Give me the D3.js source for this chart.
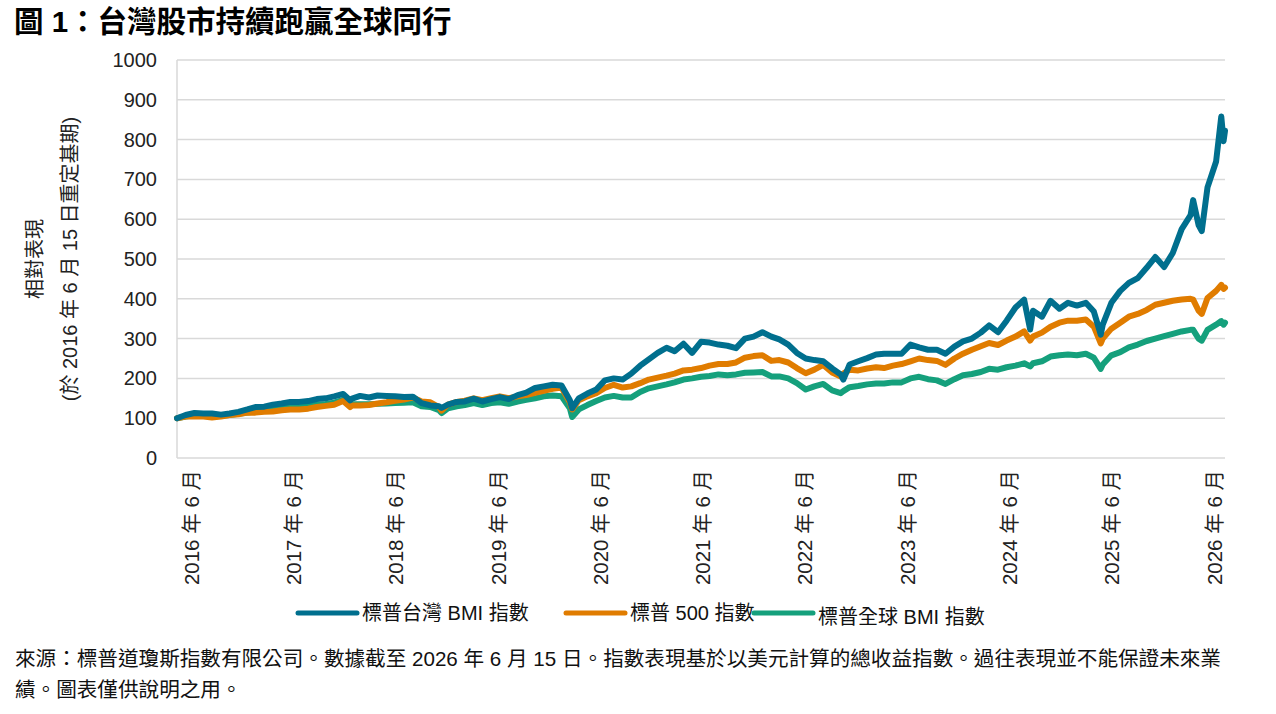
<!DOCTYPE html>
<html>
<head>
<meta charset="utf-8">
<script src="https://cdn.jsdelivr.net/npm/d3@7"></script>
<style>
  body { margin: 0; background: #fff; }
  svg text { font-family: "Liberation Sans", Arial, "Noto Sans CJK TC", sans-serif; }
</style>
</head>
<body>
<div class="svg-container"></div>
<script>
// dates of the readings (mid-month, plus a few turning points)
var dates = [
  "2016-06-15","2016-07-15","2016-08-15","2016-09-15","2016-10-15","2016-11-15","2016-12-15",
  "2017-01-15","2017-02-15","2017-03-15","2017-04-15","2017-05-15","2017-06-15","2017-07-15","2017-08-15","2017-09-15","2017-10-15","2017-11-15","2017-12-15",
  "2018-01-15","2018-02-08","2018-02-15","2018-03-15","2018-04-15","2018-05-15","2018-06-15","2018-07-15","2018-08-15","2018-09-15","2018-10-15","2018-11-15","2018-12-15","2018-12-24",
  "2019-01-15","2019-02-15","2019-03-15","2019-04-15","2019-05-15","2019-06-15","2019-07-15","2019-08-15","2019-09-15","2019-10-15","2019-11-15","2019-12-15",
  "2020-01-15","2020-02-15","2020-03-15","2020-03-23","2020-04-15","2020-05-15","2020-06-15","2020-07-15","2020-08-15","2020-09-15","2020-10-15","2020-11-15","2020-12-15",
  "2021-01-15","2021-02-15","2021-03-15","2021-04-15","2021-05-15","2021-06-15","2021-07-15","2021-08-15","2021-09-15","2021-10-15","2021-11-15","2021-12-15",
  "2022-01-15","2022-02-15","2022-03-15","2022-04-15","2022-05-15","2022-06-15","2022-07-15","2022-08-15","2022-09-15","2022-10-15","2022-10-24","2022-11-15","2022-12-15",
  "2023-01-15","2023-02-15","2023-03-15","2023-04-15","2023-05-15","2023-06-15","2023-07-15","2023-08-15","2023-09-15","2023-10-15","2023-11-15","2023-12-15",
  "2024-01-15","2024-02-15","2024-03-15","2024-04-15","2024-05-15","2024-06-15","2024-07-15","2024-08-05","2024-08-15","2024-09-15","2024-10-15","2024-11-15","2024-12-15",
  "2025-01-15","2025-02-15","2025-03-15","2025-04-08","2025-04-15","2025-05-15","2025-06-15","2025-07-15","2025-08-15","2025-09-15","2025-10-15","2025-11-15","2025-12-15",
  "2026-01-15","2026-02-15","2026-02-24","2026-03-15","2026-03-26","2026-04-15","2026-05-15","2026-06-02","2026-06-10","2026-06-15"
];

// 標普台灣 BMI 指數
var taiwanBMI = [
  100,108,113,112,112,109,112,
  116,122,128,129,134,137,141,141,143,148,150,155,
  161,145,149,156,152,157,156,155,153,154,138,132,130,126,
  134,141,142,149,142,148,153,148,158,164,176,180,
  184,182,145,125,150,162,172,195,200,197,212,232,248,
  264,277,268,287,264,292,290,285,282,276,300,305,
  316,305,298,285,264,250,246,243,225,210,197,235,243,
  251,260,262,262,262,285,278,272,272,262,280,293,
  300,315,333,316,345,378,398,323,370,355,395,375,390,
  383,390,368,310,335,390,420,440,452,478,505,480,515,
  575,610,648,585,570,680,745,858,796,822
];

// 標普 500 指數
var sp500 = [
  100,104,104,104,102,104,108,
  110,114,114,116,117,120,122,122,124,128,131,134,
  143,128,132,132,133,137,140,144,147,152,142,140,128,119,
  134,141,144,150,145,150,155,150,155,158,164,169,
  174,177,140,122,145,155,163,176,184,177,180,188,197,
  202,207,212,220,222,226,232,236,236,240,252,256,
  258,244,246,240,226,213,222,234,215,205,212,222,220,
  225,228,226,232,236,243,250,246,244,234,250,262,
  272,281,289,284,295,305,318,295,305,315,330,340,345,
  345,348,330,288,300,325,340,355,362,372,385,390,395,
  398,400,398,370,362,402,420,435,425,428
];

// 標普全球 BMI 指數
var globalBMI = [
  100,104,108,107,106,106,108,
  111,114,117,119,123,125,128,129,131,134,136,139,
  146,132,135,135,135,136,137,138,139,140,130,128,120,113,
  125,130,133,138,133,138,140,136,142,146,150,155,
  157,155,125,103,122,133,143,152,156,152,152,166,175,
  180,185,190,197,200,204,206,210,208,210,214,215,
  216,205,205,200,188,172,180,186,170,163,168,178,181,
  185,187,187,190,190,200,204,198,195,186,198,208,
  211,216,224,222,228,232,238,230,238,243,255,258,260,
  258,262,252,224,235,258,266,278,285,294,300,306,312,
  318,322,322,300,295,322,335,344,335,340
];

var yTicks = [0,100,200,300,400,500,600,700,800,900,1000];
var xLabelYears = ["2016","2017","2018","2019","2020","2021","2022","2023","2024","2025","2026"];
var seriesNames = ["標普台灣 BMI 指數", "標普 500 指數", "標普全球 BMI 指數"];
var seriesColors = ["#006f8e", "#e07c00", "#15a07c"];

function render() {
  var width = 1276;
  var height = 714;
  var plotLeft = 177, plotRight = 1225, plotTop = 60, plotBottom = 458;

  var svg = d3.select(".svg-container").append("svg")
    .attr("width", width)
    .attr("height", height);

  var parse = d3.timeParse("%Y-%m-%d");
  var series = [taiwanBMI, sp500, globalBMI].map(function(vals, i) {
    return {
      name: seriesNames[i],
      color: seriesColors[i],
      values: vals.map(function(v, j) { return { date: parse(dates[j]), value: v }; })
    };
  });

  var x = d3.scaleTime()
    .domain([parse("2016-06-15"), parse("2026-06-15")])
    .range([plotLeft, plotRight]);

  var y = d3.scaleLinear()
    .domain([0, 1000])
    .range([plotBottom, plotTop]);

  // title
  svg.append("text")
    .attr("x", 14)
    .attr("y", 32)
    .style("font-size", "29.5px")
    .style("font-weight", "bold")
    .attr("fill", "#000")
    .text("圖 1：台灣股市持續跑贏全球同行");

  // grid
  svg.append("g")
    .selectAll("line")
    .data(yTicks)
    .enter().append("line")
    .attr("x1", plotLeft)
    .attr("x2", plotRight)
    .attr("y1", function(d) { return y(d); })
    .attr("y2", function(d) { return y(d); })
    .attr("stroke", "#d9d9d9")
    .attr("stroke-width", 1.5);

  svg.append("line")
    .attr("x1", plotLeft).attr("x2", plotLeft)
    .attr("y1", plotTop).attr("y2", plotBottom)
    .attr("stroke", "#d9d9d9")
    .attr("stroke-width", 1.5);

  // Y axis
  var yAxis = svg.append("g")
    .attr("transform", "translate(" + (plotLeft - 20) + ",0)")
    .call(d3.axisLeft(y).tickValues(yTicks).tickSize(0).tickPadding(0).tickFormat(d3.format("d")));
  yAxis.select(".domain").remove();
  yAxis.selectAll("text")
    .style("font-size", "20px")
    .attr("fill", "#222");

  // Y axis label
  svg.append("text")
    .attr("transform", "translate(35," + y(500) + ") rotate(-90)")
    .style("text-anchor", "middle")
    .attr("dy", "0.35em")
    .style("font-size", "20px")
    .attr("fill", "#222")
    .text("相對表現");
  svg.append("text")
    .attr("transform", "translate(70," + y(500) + ") rotate(-90)")
    .style("text-anchor", "middle")
    .attr("dy", "0.35em")
    .style("font-size", "20px")
    .attr("fill", "#222")
    .text("(於 2016 年 6 月 15 日重定基期)");

  // X axis labels
  var xLab = d3.scalePoint().domain(xLabelYears).range([191, 1214]);
  var xAxis = svg.append("g")
    .attr("transform", "translate(0,470)")
    .call(d3.axisBottom(xLab).tickSize(0).tickFormat(function(d) { return d + " 年 6 月"; }));
  xAxis.select(".domain").remove();
  xAxis.selectAll("text")
    .attr("transform", "rotate(-90)")
    .attr("x", 0)
    .attr("y", 0)
    .attr("dy", "0.35em")
    .style("text-anchor", "end")
    .style("font-size", "20.5px")
    .attr("fill", "#222");

  // lines
  var line = d3.line()
    .x(function(d) { return x(d.date); })
    .y(function(d) { return y(d.value); });

  svg.append("g")
    .selectAll("path")
    .data(series.slice().reverse())
    .enter().append("path")
    .attr("d", function(d) { return line(d.values); })
    .attr("fill", "none")
    .attr("stroke", function(d) { return d.color; })
    .attr("stroke-width", 6)
    .attr("stroke-linejoin", "round")
    .attr("stroke-linecap", "round");

  // legend
  var legendX = [298, 566, 754];
  var legendDy = [0, 0, 4];
  var legend = svg.append("g")
    .selectAll("g")
    .data(series)
    .enter().append("g")
    .attr("transform", function(d, i) { return "translate(" + legendX[i] + ",613)"; });
  legend.append("line")
    .attr("x1", 0).attr("x2", 59)
    .attr("y1", 0).attr("y2", 0)
    .attr("stroke", function(d) { return d.color; })
    .attr("stroke-width", 5)
    .attr("stroke-linecap", "round");
  legend.append("text")
    .attr("x", 64)
    .attr("y", function(d, i) { return legendDy[i]; })
    .attr("dy", "0.35em")
    .style("font-size", "20px")
    .attr("fill", "#111")
    .text(function(d) { return d.name; });

  // footnote
  var notes = [
    "來源：標普道瓊斯指數有限公司。數據截至 2026 年 6 月 15 日。指數表現基於以美元計算的總收益指數。過往表現並不能保證未來業",
    "績。圖表僅供說明之用。"
  ];
  svg.append("g")
    .selectAll("text")
    .data(notes)
    .enter().append("text")
    .attr("x", 15)
    .attr("y", function(d, i) { return 666 + i * 31; })
    .style("font-size", "20.6px")
    .attr("fill", "#111")
    .text(function(d) { return d; });
}

render();
</script>
</body>
</html>
